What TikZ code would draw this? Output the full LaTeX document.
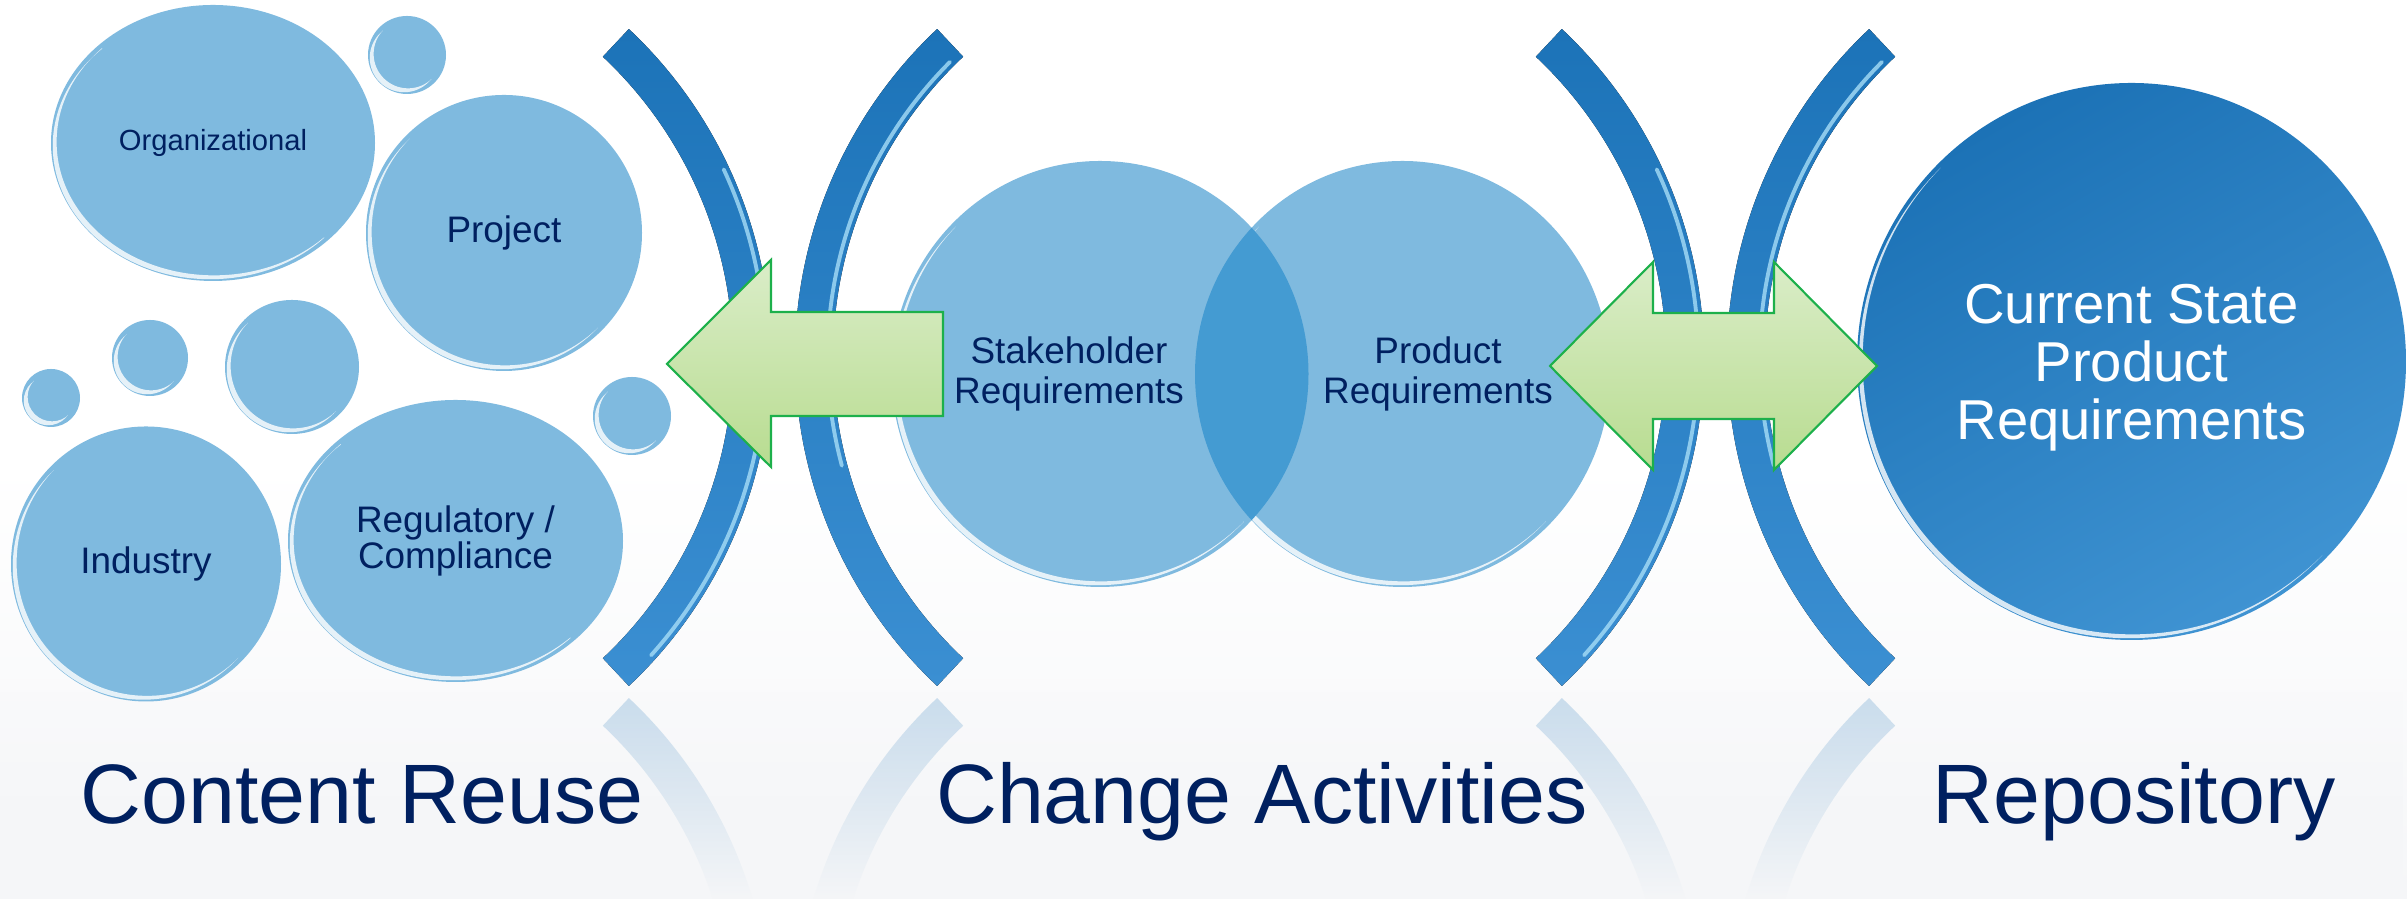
\documentclass[tikz,border=0pt]{standalone}
\usepackage{fontspec}
\setmainfont{Liberation Sans}
\usetikzlibrary{shapes.geometric,calc,fadings}
\definecolor{navy}{HTML}{002060}
\definecolor{bubblefill}{HTML}{7FBADF}
\definecolor{overlapfill}{HTML}{449BD2}
\definecolor{brackettop}{HTML}{1C73B8}
\definecolor{bracketbot}{HTML}{3B8FD2}
\definecolor{shinecol}{HTML}{A6DDF7}
\definecolor{repotop}{HTML}{1C72B6}
\definecolor{repobot}{HTML}{3F93D2}
\definecolor{arrowtop}{HTML}{DAEDC8}
\definecolor{arrowbot}{HTML}{B8DC90}
\definecolor{arrowline}{HTML}{1DB04B}
\definecolor{bglow}{HTML}{F5F6F8}

\begin{document}
\begin{tikzpicture}[
    gloss/.style={path picture={
        \clip (path picture bounding box.north west) -- (path picture bounding box.south east)
              -- (path picture bounding box.south west) -- cycle;
        \fill[white, fill opacity=0.8, even odd rule]
          let \p1=(path picture bounding box.center), \p2=(path picture bounding box.north east),
              \n1={\x2-\x1-1.3pt}, \n2={\y2-\y1-1.3pt} in
          ({\x1-0.8pt},{\y1-0.8pt}) ellipse [x radius={\n1*1pt}, y radius={\n2*1pt}]
          ({\x1+0.3pt},{\y1+0.3pt}) ellipse [x radius={\n1*1pt}, y radius={\n2*1pt}];
      }},
    bubble/.style={ellipse, fill=bubblefill, text=navy, align=center, inner sep=0pt,
      font=\fontsize{10.5}{10.5}\selectfont, gloss},
    venntext/.style={text=navy, align=center, font=\fontsize{10.5}{11.4}\selectfont},
    bracket/.style={top color=brackettop, bottom color=bracketbot},
    mirrorarc/.style={fill=brackettop, fill opacity=0.22},
    shine/.style={draw=shinecol, line width=1.1pt, line cap=round, opacity=0.8},
    blockarrow/.style={draw=arrowline, line width=0.6pt, top color=arrowtop, bottom color=arrowbot},
    caption/.style={text=navy, font=\fontsize{24}{28}\selectfont, anchor=base}
  ]
  \useasboundingbox (0,0) rectangle (24.07,8.99);
  \fill[white] (0,0) rectangle (24.07,8.99);
  \shade[top color=white, bottom color=bglow] (0,0) rectangle (24.07,4.4);

  % brackets and their reflections
  \begin{scope}
    \clip (0,0) rectangle (24.07,8.99);
    \foreach \cy/\look in {5.415/bracket, -1.275/mirrorarc}
      \foreach \cx/\a in {3.204/0, 12.456/180, 12.534/0, 21.776/180}
        \fill[\look] (\cx,\cy) ++(\a+46.8:4.506) arc[start angle=\a+46.8, end angle=\a-46.8, radius=4.506]
          -- ++(\a-46.8:-0.38) arc[start angle=\a-46.8, end angle=\a+46.8, radius=4.126] -- cycle;
    \fill[bglow, path fading=north] (0,0) rectangle (24.07,2.07);
  \end{scope}
  \foreach \cx/\hr/\s/\e in {3.204/4.45/25/-42, 12.456/4.18/135/195, 12.534/4.45/25/-42, 21.776/4.18/135/195}
    \draw[shine] (\cx,5.415) ++(\s:\hr) arc[start angle=\s, end angle=\e, radius=\hr];

  % content reuse bubbles
  \node[bubble, minimum width=3.24cm, minimum height=2.76cm, font=\fontsize{8.3}{10}\selectfont] (org) at (2.13,7.56) {Organizational};
  \node[bubble, minimum size=0.78cm] (dropa) at (4.07,8.44) {};
  \node[bubble, minimum size=2.76cm] (proj) at (5.04,6.66) {Project};
  \node[bubble, minimum size=0.58cm] (dropb) at (0.51,5.01) {};
  \node[bubble, minimum size=0.76cm] (dropc) at (1.50,5.41) {};
  \node[bubble, minimum size=1.34cm] (dropd) at (2.92,5.32) {};
  \node[bubble, minimum size=0.78cm] (drope) at (6.32,4.83) {};
  \node[bubble, minimum width=2.70cm, minimum height=2.75cm] (ind) at (1.46,3.35) {Industry};
  \node[bubble, minimum width=3.35cm, minimum height=2.82cm] (reg) at (4.555,3.58) {Regulatory /\\Compliance};

  % change activities
  \node[bubble, minimum width=4.17cm, minimum height=4.26cm] (stake) at (11.00,5.25) {};
  \node[bubble, minimum width=4.15cm, minimum height=4.26cm] (prod) at (14.025,5.25) {};
  \begin{scope}
    \clip (11.00,5.25) ellipse [x radius=2.085, y radius=2.13];
    \fill[overlapfill] (14.025,5.25) ellipse [x radius=2.075, y radius=2.13];
  \end{scope}
  \node[venntext] (stxt) at ([xshift=-0.31cm]stake.center) {Stakeholder\\Requirements};
  \node[venntext] (ptxt) at ([xshift=0.355cm]prod.center) {Product\\Requirements};

  % repository
  \node[ellipse, minimum width=5.49cm, minimum height=5.57cm, inner sep=0pt, top color=repotop,
    bottom color=repobot, shading angle=30, gloss] (repo) at (21.315,5.375) {};
  \node[text=white, align=center, font=\fontsize{16}{16.5}\selectfont] (repotxt)
    at ([yshift=-0.06cm]repo.center) {Current State\\Product\\Requirements};

  % block arrows
  \draw[blockarrow] (6.67,5.35) -- (7.71,6.39) -- (7.71,5.87) -- (9.43,5.87) -- (9.43,4.83)
    -- (7.71,4.83) -- (7.71,4.32) -- cycle;
  \draw[blockarrow] (15.50,5.33) -- (16.53,6.37) -- (16.53,5.86) -- (17.74,5.86) -- (17.74,6.37)
    -- (18.77,5.33) -- (17.74,4.29) -- (17.74,4.80) -- (16.53,4.80) -- (16.53,4.29) -- cycle;

  \node[caption] (reuse) at (3.62,0.75) {Content Reuse};
  \node[caption] (change) at (12.62,0.75) {Change Activities};
  \node[caption] (store) at (21.34,0.75) {Repository};
\end{tikzpicture}
\end{document}
